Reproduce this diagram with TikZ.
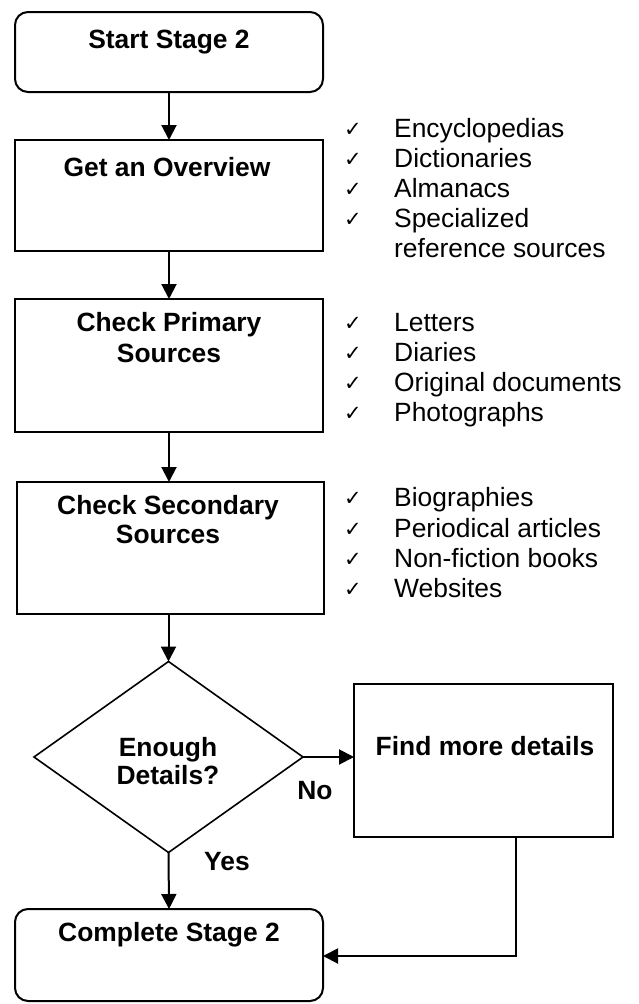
\documentclass[tikz,border=0pt]{standalone}
\usepackage{fontspec}
\setmainfont{Liberation Sans}
\newfontfamily\symfont{DejaVu Sans}
\usetikzlibrary{shapes.geometric,arrows.meta}

\tikzset{
  x=1pt, y=-1pt,
  box/.style={draw, line width=2pt, rectangle, inner sep=0pt, outer sep=0pt},
  roundbox/.style={box, rounded corners=13pt},
  decision/.style={draw, line width=1.6pt, diamond, inner sep=0pt, outer sep=0pt},
  title/.style={font=\fontsize{26.4}{30}\selectfont\bfseries, anchor=base, inner sep=0pt},
  item/.style={font=\fontsize{26.4}{30}\selectfont, anchor=base west, inner sep=0pt},
  tick/.style={font=\symfont\fontsize{21}{21}\selectfont, anchor=base, inner sep=0pt},
  flow/.style={line width=2pt, -{Triangle[length=15pt,width=15pt]}},
}

\begin{document}
\begin{tikzpicture}
\useasboundingbox (0,0) rectangle (639,1004);

% process boxes
\node[roundbox, minimum width=308pt, minimum height=80pt]  (start)     at (169,52)    {};
\node[box,      minimum width=308pt, minimum height=111pt] (overview)  at (169,195.5) {};
\node[box,      minimum width=308pt, minimum height=133pt] (primary)   at (169,365.5) {};
\node[box,      minimum width=307pt, minimum height=132pt] (secondary) at (170.5,548) {};
\node[decision, minimum width=269pt, minimum height=191pt] (enough)    at (168.5,757) {};
\node[box,      minimum width=259pt, minimum height=153pt] (more)      at (483.5,760.5) {};
\node[roundbox, minimum width=308pt, minimum height=92pt]  (complete)  at (169,955)   {};

% box titles
\node[title] (startT)      at (169,48.5)  {Start Stage 2};
\node[title] (overviewT)   at (167,176.5) {Get an Overview};
\node[title] (primaryT)    at (169,331.5) {Check Primary};
\node[title] (primaryS)    at (169,362.5) {Sources};
\node[title] (secondaryT)  at (168,514.5) {Check Secondary};
\node[title] (secondaryS)  at (168,543.5) {Sources};
\node[title] (enoughT)     at (168,756.5) {Enough};
\node[title] (enoughS)     at (168,784.5) {Details?};
\node[title] (moreT)       at (485,755.5) {Find more details};
\node[title] (completeT)   at (169,941.5) {Complete Stage 2};

% branch labels
\node[title] (noL)  at (315,799.5) {No};
\node[title] (yesL) at (227,870.5) {Yes};

% check lists
\foreach \y/\txt [count=\i] in {137.5/Encyclopedias, 167.5/Dictionaries, 197.5/Almanacs, 227.5/Specialized}{
  \node[tick] (ovc\i) at (353,\y-1) {✓};
  \node[item] (ovi\i) at (394,\y) {\txt};
}
\node[item] (ovi5) at (394,257.5) {reference sources};

\foreach \y/\txt [count=\i] in {331/Letters, 361/Diaries, 391/Original documents, 421/Photographs}{
  \node[tick] (prc\i) at (353,\y-1) {✓};
  \node[item] (pri\i) at (394,\y) {\txt};
}

\foreach \y/\txt [count=\i] in {506.5/Biographies, 537/Periodical articles, 567/Non-fiction books, 597/Websites}{
  \node[tick] (sec\i) at (353,\y-1) {✓};
  \node[item] (sei\i) at (394,\y) {\txt};
}

% connectors
\draw[flow] (start.south) -- (overview.north);
\draw[flow] (overview.south) -- (primary.north);
\draw[flow] (primary.south) -- (primary.south |- secondary.north);
\draw[flow] (enough.north |- secondary.south) -- (enough.north);
\draw[flow] (enough.east) -- (enough.east -| more.west);
\draw[flow] (enough.south) -- (complete.north);
\coordinate (back) at (516,956);
\draw[flow] (more.south -| back) -- (back) -- (back -| complete.east);
\end{tikzpicture}
\end{document}
